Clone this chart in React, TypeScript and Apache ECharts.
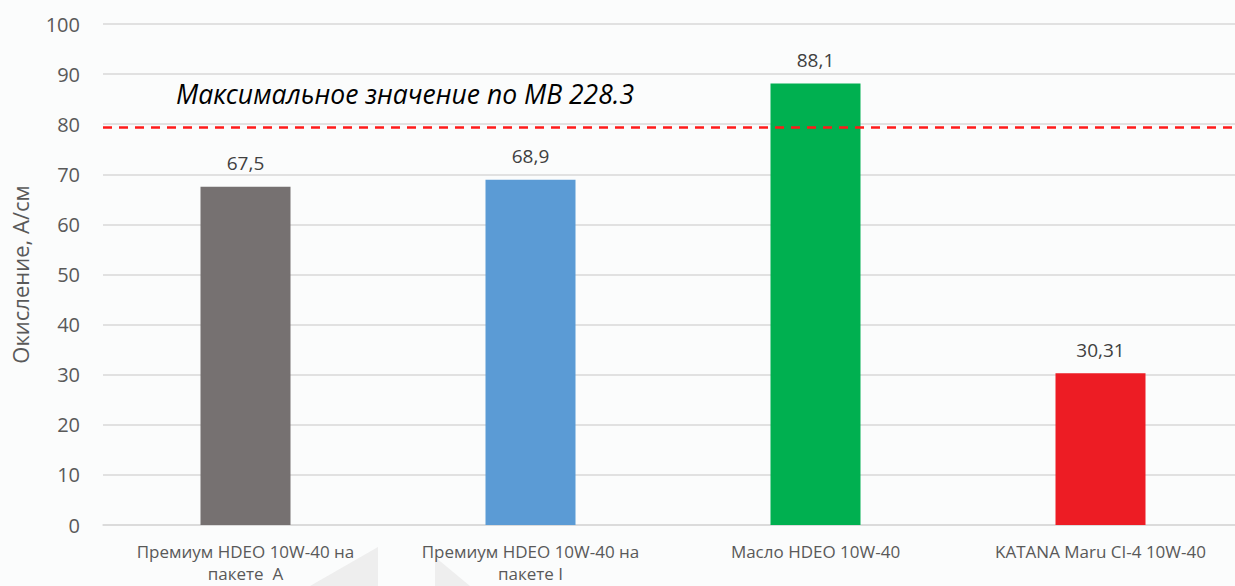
import React, { useEffect, useRef } from "react";
import * as echarts from "echarts";

const categories = [
  "Премиум HDEO 10W-40 на\nпакете  A",
  "Премиум HDEO 10W-40 на\nпакете I",
  "Масло HDEO 10W-40",
  "KATANA Maru CI-4 10W-40",
];
const values = [67.5, 68.9, 88.1, 30.31];
const valueLabels = ["67,5", "68,9", "88,1", "30,31"];
const barColors = ["#767171", "#5b9bd5", "#00b050", "#ed1c24"];
const limitValue = 79.4;
const limitText = "Максимальное значение по МВ 228.3";
const yAxisName = "Окисление, А/см";

export default function App() {
  const ref = useRef<HTMLDivElement>(null);
  useEffect(() => {
    if (!ref.current) return;
    const chart = echarts.init(ref.current, null, { renderer: "svg" });
    const font = "'Open Sans', sans-serif";
    chart.setOption({
      animation: false,
      backgroundColor: "#fbfcfc",
      textStyle: { fontFamily: font },
      grid: { left: 103, right: 2, top: 24, bottom: 61, containLabel: false },
      xAxis: {
        type: "category",
        data: categories,
        axisTick: { show: false },
        axisLine: { lineStyle: { color: "#d9d9d9", width: 1.5 } },
        axisLabel: {
          interval: 0,
          color: "#595959",
          fontSize: 17,
          lineHeight: 22,
          margin: 15,
          fontFamily: font,
        },
      },
      yAxis: {
        type: "value",
        min: 0,
        max: 100,
        interval: 10,
        name: yAxisName,
        nameLocation: "middle",
        nameGap: 72,
        nameTextStyle: { color: "#595959", fontSize: 22, fontFamily: font },
        axisLabel: { color: "#595959", fontSize: 20, margin: 23, fontFamily: font },
        splitLine: { lineStyle: { color: "#d9d9d9", width: 1.5 } },
        axisLine: { show: false },
        axisTick: { show: false },
      },
      graphic: [
        {
          type: "polygon",
          silent: true,
          z: -1,
          shape: { points: [[378, 547], [378, 586], [310, 586]] },
          style: { fill: "#eeeeee" },
        },
        {
          type: "polygon",
          silent: true,
          z: -1,
          shape: { points: [[435, 557], [435, 586], [470, 586]] },
          style: { fill: "#eeeeee" },
        },
        {
          type: "text",
          left: 176,
          top: 80,
          style: {
            text: limitText,
            fill: "#000000",
            font: "italic 26.5px 'Open Sans', sans-serif",
          },
        },
      ],
      series: [
        {
          type: "bar",
          barWidth: 90,
          data: values.map((v, i) => ({
            value: v,
            itemStyle: { color: barColors[i] },
            label: { formatter: valueLabels[i] },
          })),
          label: {
            show: true,
            position: "top",
            distance: 14,
            color: "#404040",
            fontSize: 19,
            fontFamily: font,
          },
          markLine: {
            silent: true,
            symbol: "none",
            label: { show: false },
            lineStyle: { color: "#ff1a1a", type: [9, 7], width: 2.5 },
            data: [{ yAxis: limitValue }],
          },
        },
      ],
    });
    return () => chart.dispose();
  }, []);
  return (
    <div
      ref={ref}
      style={{ position: "fixed", left: 0, top: 0, width: 1245, height: 586 }}
    />
  );
}
